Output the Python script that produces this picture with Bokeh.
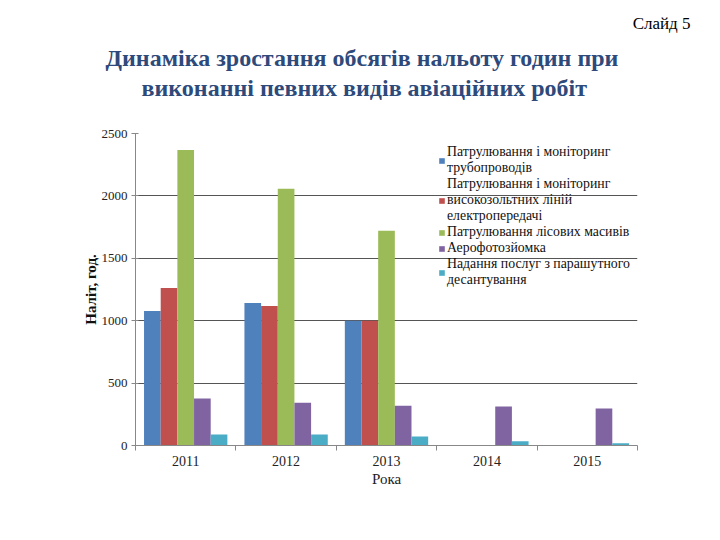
from bokeh.plotting import figure
from bokeh.models import FixedTicker, Legend, LegendItem, Range1d, Title
from bokeh.embed import file_html
from bokeh.resources import INLINE

years = ["2011", "2012", "2013", "2014", "2015"]
series_names = [
    "Патрулювання і моніторинг\nтрубопроводів",
    "Патрулювання і моніторинг\nвисокозольтних ліній\nелектропередачі",
    "Патрулювання лісових масивів",
    "Аерофотозйомка",
    "Надання послуг з парашутного\nдесантування",
]
pipelines = [1078, 1142, 1000, 0, 0]
power_lines = [1262, 1118, 1000, 0, 0]
forests = [2367, 2057, 1721, 0, 0]
aerial_photo = [376, 342, 318, 312, 296]
parachute = [88, 88, 72, 35, 19]
y_ticks = [0, 500, 1000, 1500, 2000, 2500]
title_lines = ["Динаміка зростання обсягів нальоту годин при",
               "виконанні певних видів авіаційних робіт"]
slide_label = "Слайд 5"

series = [pipelines, power_lines, forests, aerial_photo, parachute]
colors = ["#4F81BD", "#C0504D", "#9BBB59", "#8064A2", "#4BACC6"]

FONT = "Liberation Serif"

p = figure(width=704, height=524, output_backend="svg", toolbar_location=None,
           x_range=Range1d(0, len(years)), y_range=Range1d(0, 2500),
           min_border_left=135, min_border_right=67, min_border_top=133,
           min_border_bottom=79)
p.outline_line_color = None
p.xgrid.grid_line_color = None
p.ygrid.grid_line_color = "#555555"
p.ygrid.grid_line_width = 1

bw = 0.166
renderers = []
for k, (vals, col) in enumerate(zip(series, colors)):
    xs = [i + 0.5 + (k - 2) * bw for i in range(len(years))]
    r = p.vbar(x=xs, top=vals, width=bw, fill_color=col, line_color=None)
    renderers.append(r)

# x axis: labels at category centres, ticks at boundaries
p.xaxis.ticker = FixedTicker(ticks=[i + 0.5 for i in range(len(years))],
                             minor_ticks=list(range(len(years) + 1)))
p.xaxis.major_label_overrides = {i + 0.5: y for i, y in enumerate(years)}
p.xaxis.major_tick_line_color = None
p.xaxis.minor_tick_line_color = "#888888"
p.xaxis.minor_tick_out = 5
p.xaxis.minor_tick_in = 0
p.xaxis.axis_line_color = "#888888"
p.xaxis.axis_label = "Рока"
p.xaxis.axis_label_text_font = FONT
p.xaxis.axis_label_text_font_style = "normal"
p.xaxis.axis_label_text_font_size = "15px"
p.xaxis.axis_label_text_color = "#222222"
p.xaxis.major_label_text_font = FONT
p.xaxis.major_label_text_font_size = "14px"
p.xaxis.major_label_text_color = "#222222"
p.xaxis.major_label_standoff = 4
p.xaxis.axis_label_standoff = 2

p.yaxis.ticker = FixedTicker(ticks=y_ticks, minor_ticks=[])
p.yaxis.axis_line_color = "#888888"
p.yaxis.major_tick_line_color = "#888888"
p.yaxis.major_tick_out = 4
p.yaxis.major_tick_in = 3
p.yaxis.axis_label = "Наліт, год."
p.yaxis.axis_label_text_font = FONT
p.yaxis.axis_label_text_font_style = "bold"
p.yaxis.axis_label_text_font_size = "15px"
p.yaxis.axis_label_text_color = "#111111"
p.yaxis.major_label_text_font = FONT
p.yaxis.major_label_text_font_size = "13px"
p.yaxis.major_label_text_color = "#222222"
p.yaxis.major_label_standoff = 4
p.yaxis.axis_label_standoff = 0

legend = Legend(items=[LegendItem(label=n, renderers=[r]) for n, r in zip(series_names, renderers)],
                location=(303, 157), orientation="vertical",
                background_fill_alpha=0, border_line_color=None,
                label_text_font=FONT, label_text_font_size="13.8px",
                label_text_color="#111111", label_standoff=2,
                glyph_width=7, glyph_height=7, spacing=0, padding=0, margin=0,
                label_height=15)
p.add_layout(legend, "center")

# titles: the plot title sits at the top edge; the others stack up from the frame
p.title = Title(text=slide_label, text_font=FONT, text_font_style="normal",
                text_font_size="17px", text_color="#000000", align="right",
                offset=-53, standoff=20)
title_style = dict(text_font=FONT, text_font_style="bold", text_font_size="24px",
                   text_color="#2E4A7B", align="left")
p.add_layout(Title(text=" ", text_font=FONT, text_font_size="10px", standoff=19), "above")
p.add_layout(Title(text=title_lines[1], offset=6, standoff=2, **title_style), "above")
p.add_layout(Title(text=title_lines[0], offset=-30, standoff=1, **title_style), "above")

open("out.html", "w").write(file_html(p, INLINE))
